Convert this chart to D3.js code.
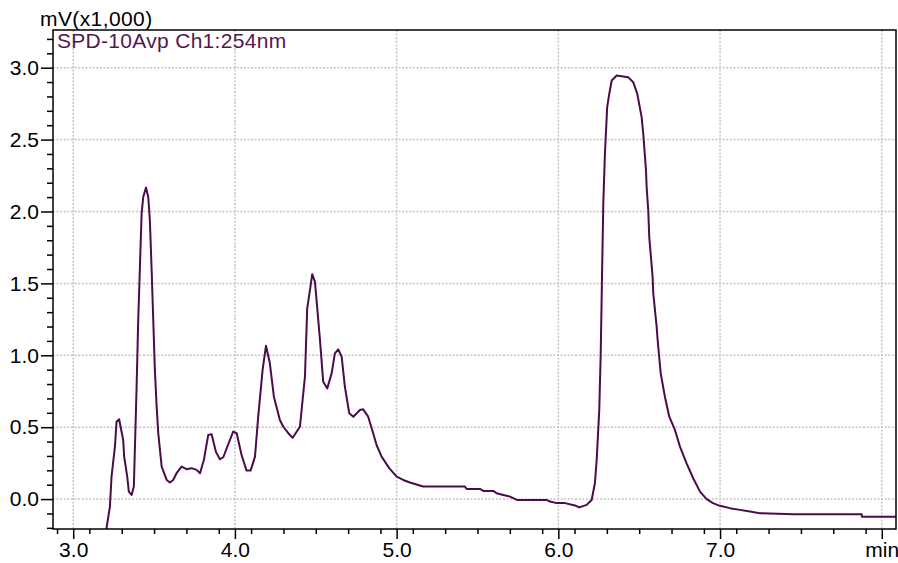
<!DOCTYPE html>
<html>
<head>
<meta charset="utf-8">
<script src="https://cdn.jsdelivr.net/npm/d3@7"></script>
<style>
  body { margin: 0; background: #fff; }
  svg { display: block; font-family: "Liberation Sans", Arial, sans-serif; }
  .grid line { stroke: #c4c4c4; stroke-width: 1.5; stroke-dasharray: 2,1.6; }
  .axis path { display: none; }
  .axis line { stroke: #000; stroke-width: 1.5; }
  .axis text { font-size: 21px; fill: #000; font-family: "Liberation Sans", Arial, sans-serif; }
</style>
</head>
<body>
<svg id="chart" width="898" height="563"></svg>
<script>
// retention time (min)
let times = [3.205, 3.227, 3.237, 3.258, 3.268, 3.284, 3.309, 3.315, 3.334, 3.344,
    3.361, 3.375, 3.392, 3.402, 3.423, 3.433, 3.450, 3.464, 3.474, 3.485,
    3.495, 3.505, 3.516, 3.526, 3.547, 3.578, 3.598, 3.618, 3.639, 3.670,
    3.701, 3.732, 3.763, 3.784, 3.808, 3.835, 3.856, 3.882, 3.907, 3.928,
    3.969, 3.989, 4.011, 4.041, 4.072, 4.097, 4.124, 4.144, 4.171, 4.192,
    4.216, 4.241, 4.278, 4.299, 4.330, 4.357, 4.402, 4.433, 4.447, 4.464,
    4.478, 4.495, 4.526, 4.546, 4.571, 4.598, 4.618, 4.639, 4.660, 4.680,
    4.707, 4.732, 4.773, 4.793, 4.824, 4.852, 4.876, 4.907, 4.954, 5.000,
    5.041, 5.082, 5.164, 5.422, 5.433, 5.515, 5.536, 5.597, 5.618, 5.660,
    5.701, 5.744, 5.928, 5.948, 5.990, 6.041, 6.103, 6.129, 6.175, 6.206,
    6.226, 6.237, 6.253, 6.262, 6.270, 6.278, 6.288, 6.302, 6.315, 6.330,
    6.361, 6.401, 6.432, 6.463, 6.488, 6.515, 6.525, 6.542, 6.546, 6.556,
    6.562, 6.583, 6.587, 6.608, 6.614, 6.633, 6.659, 6.686, 6.721, 6.752,
    6.793, 6.834, 6.876, 6.917, 6.956, 6.999, 7.061, 7.123, 7.185, 7.245,
    7.453, 7.876, 7.877, 8.088];

// signal (mV x1,000)
let signal = [-0.21, -0.052, 0.156, 0.365, 0.538, 0.555, 0.411, 0.296, 0.156, 0.052,
    0.029, 0.087, 0.781, 1.244, 1.985, 2.101, 2.166, 2.101, 1.939, 1.592,
    1.244, 0.897, 0.642, 0.458, 0.226, 0.133, 0.115, 0.133, 0.180, 0.226,
    0.208, 0.215, 0.203, 0.180, 0.272, 0.446, 0.451, 0.330, 0.277, 0.291,
    0.411, 0.469, 0.458, 0.307, 0.198, 0.198, 0.295, 0.573, 0.897, 1.066,
    0.944, 0.712, 0.550, 0.503, 0.458, 0.427, 0.503, 0.851, 1.326, 1.453,
    1.564, 1.510, 1.106, 0.816, 0.770, 0.874, 1.013, 1.041, 0.990, 0.781,
    0.597, 0.573, 0.620, 0.624, 0.573, 0.469, 0.376, 0.295, 0.215, 0.156,
    0.133, 0.115, 0.087, 0.087, 0.071, 0.071, 0.057, 0.057, 0.041, 0.029,
    0.017, -0.006, -0.006, -0.017, -0.028, -0.028, -0.044, -0.058, -0.040, -0.006,
    0.110, 0.272, 0.619, 1.013, 1.545, 2.055, 2.402, 2.726, 2.819, 2.911,
    2.946, 2.939, 2.934, 2.899, 2.819, 2.656, 2.541, 2.286, 2.170, 2.008,
    1.823, 1.545, 1.430, 1.198, 1.106, 0.874, 0.712, 0.573, 0.481, 0.365,
    0.249, 0.145, 0.052, 0.000, -0.028, -0.047, -0.063, -0.075, -0.087, -0.098,
    -0.105, -0.105, -0.122, -0.122];

let xTicks = [3, 4, 5, 6, 7, 8];
let xTickLabels = ["3.0", "4.0", "5.0", "6.0", "7.0", "min"];
let yTicks = [0, 0.5, 1.0, 1.5, 2.0, 2.5, 3.0];

let yUnit = "mV(x1,000)";
let traceName = "SPD-10Avp Ch1:254nm";

let svg = d3.select("#chart");

let plot = {left: 53, right: 896, top: 30, bottom: 529};

let x = d3.scaleLinear().domain([2.875, 8.088]).range([plot.left, plot.right]);
let y = d3.scaleLinear().domain([-0.208, 3.262]).range([plot.bottom, plot.top]);

// grid
let grid = svg.append("g").attr("class", "grid");
grid.selectAll("line.v").data(xTicks).enter().append("line")
    .attr("class", "v")
    .attr("x1", d => x(d)).attr("x2", d => x(d))
    .attr("y1", plot.top).attr("y2", plot.bottom);
grid.selectAll("line.h").data(yTicks).enter().append("line")
    .attr("class", "h")
    .attr("x1", plot.left).attr("x2", plot.right)
    .attr("y1", d => y(d)).attr("y2", d => y(d));

// minor ticks
let xMinor = d3.range(2.9, 8.09, 0.2).filter(v => Math.abs(v - Math.round(v)) > 0.01);
let yMinor = d3.range(-0.2, 3.26, 0.1).filter(v => Math.abs(v * 2 - Math.round(v * 2)) > 0.01);

svg.append("g").attr("class", "axis")
    .attr("transform", "translate(0," + plot.bottom + ")")
    .call(d3.axisBottom(x).tickValues(xMinor).tickSize(5).tickFormat(""));
svg.append("g").attr("class", "axis")
    .attr("transform", "translate(" + plot.left + ",0)")
    .call(d3.axisLeft(y).tickValues(yMinor).tickSize(6).tickFormat(""));

// major ticks
svg.append("g").attr("class", "axis")
    .attr("transform", "translate(0," + plot.bottom + ")")
    .call(d3.axisBottom(x).tickValues(xTicks).tickSize(10).tickPadding(3)
        .tickFormat((d, i) => xTickLabels[i]));
svg.append("g").attr("class", "axis")
    .attr("transform", "translate(" + plot.left + ",0)")
    .call(d3.axisLeft(y).tickValues(yTicks).tickSize(12).tickPadding(2)
        .tickFormat(d3.format(".1f")));

// trace
svg.append("clipPath").attr("id", "plot-clip")
    .append("rect").attr("x", plot.left).attr("y", plot.top)
    .attr("width", plot.right - plot.left).attr("height", plot.bottom - plot.top);

let line = d3.line()
    .x((d, i) => x(times[i]))
    .y(d => y(d));

svg.append("path")
    .datum(signal)
    .attr("clip-path", "url(#plot-clip)")
    .attr("d", line)
    .attr("fill", "none")
    .attr("stroke", "#4a0c4a")
    .attr("stroke-width", 2)
    .attr("stroke-linejoin", "round");

// frame
svg.append("rect")
    .attr("x", plot.left).attr("y", plot.top)
    .attr("width", plot.right - plot.left).attr("height", plot.bottom - plot.top)
    .attr("fill", "none").attr("stroke", "#000").attr("stroke-width", 1.5);

// labels
svg.append("text")
    .attr("x", 40).attr("y", 26)
    .attr("font-size", 21)
    .attr("letter-spacing", 0.4)
    .text(yUnit);

svg.append("text")
    .attr("x", 57).attr("y", 48)
    .attr("font-size", 21)
    .attr("letter-spacing", 0.3)
    .attr("fill", "#55164f")
    .text(traceName);
</script>
</body>
</html>
